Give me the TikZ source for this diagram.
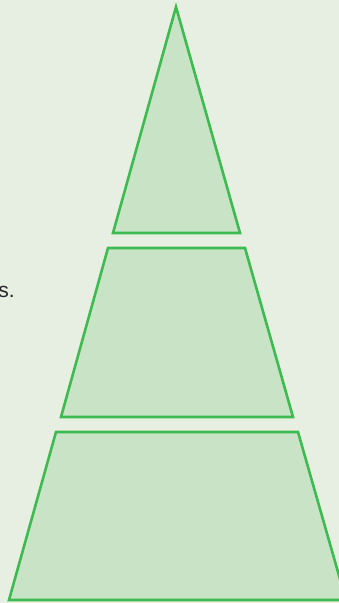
\documentclass[tikz,border=0pt]{standalone}
\usepackage{fontspec}
\setmainfont{Liberation Sans}
\definecolor{bg}{HTML}{E6EFE2}
\definecolor{tierfill}{HTML}{C8E3C5}
\definecolor{tierline}{HTML}{3DBB50}
\begin{document}
\begin{tikzpicture}[x=1pt,y=-1pt,
  tier/.style={draw=tierline,fill=tierfill,line width=2.6pt,line join=miter}]
\useasboundingbox (0,0) rectangle (339,603);
\fill[bg] (0,0) rectangle (339,603);
\begin{scope}
\clip (0,0) rectangle (339,603);
\draw[tier] (176,7) -- (240,233) -- (113,233) -- cycle;
\draw[tier] (108,248) -- (245,248) -- (293,417) -- (61,417) -- cycle;
\draw[tier] (56,432) -- (298,432) -- (346,600) -- (9,600) -- cycle;
\node[anchor=base east,inner sep=0pt,font=\fontsize{21}{24}\selectfont,text=black!85] (lbl) at (15,297) {s.};
\end{scope}
\end{tikzpicture}
\end{document}
